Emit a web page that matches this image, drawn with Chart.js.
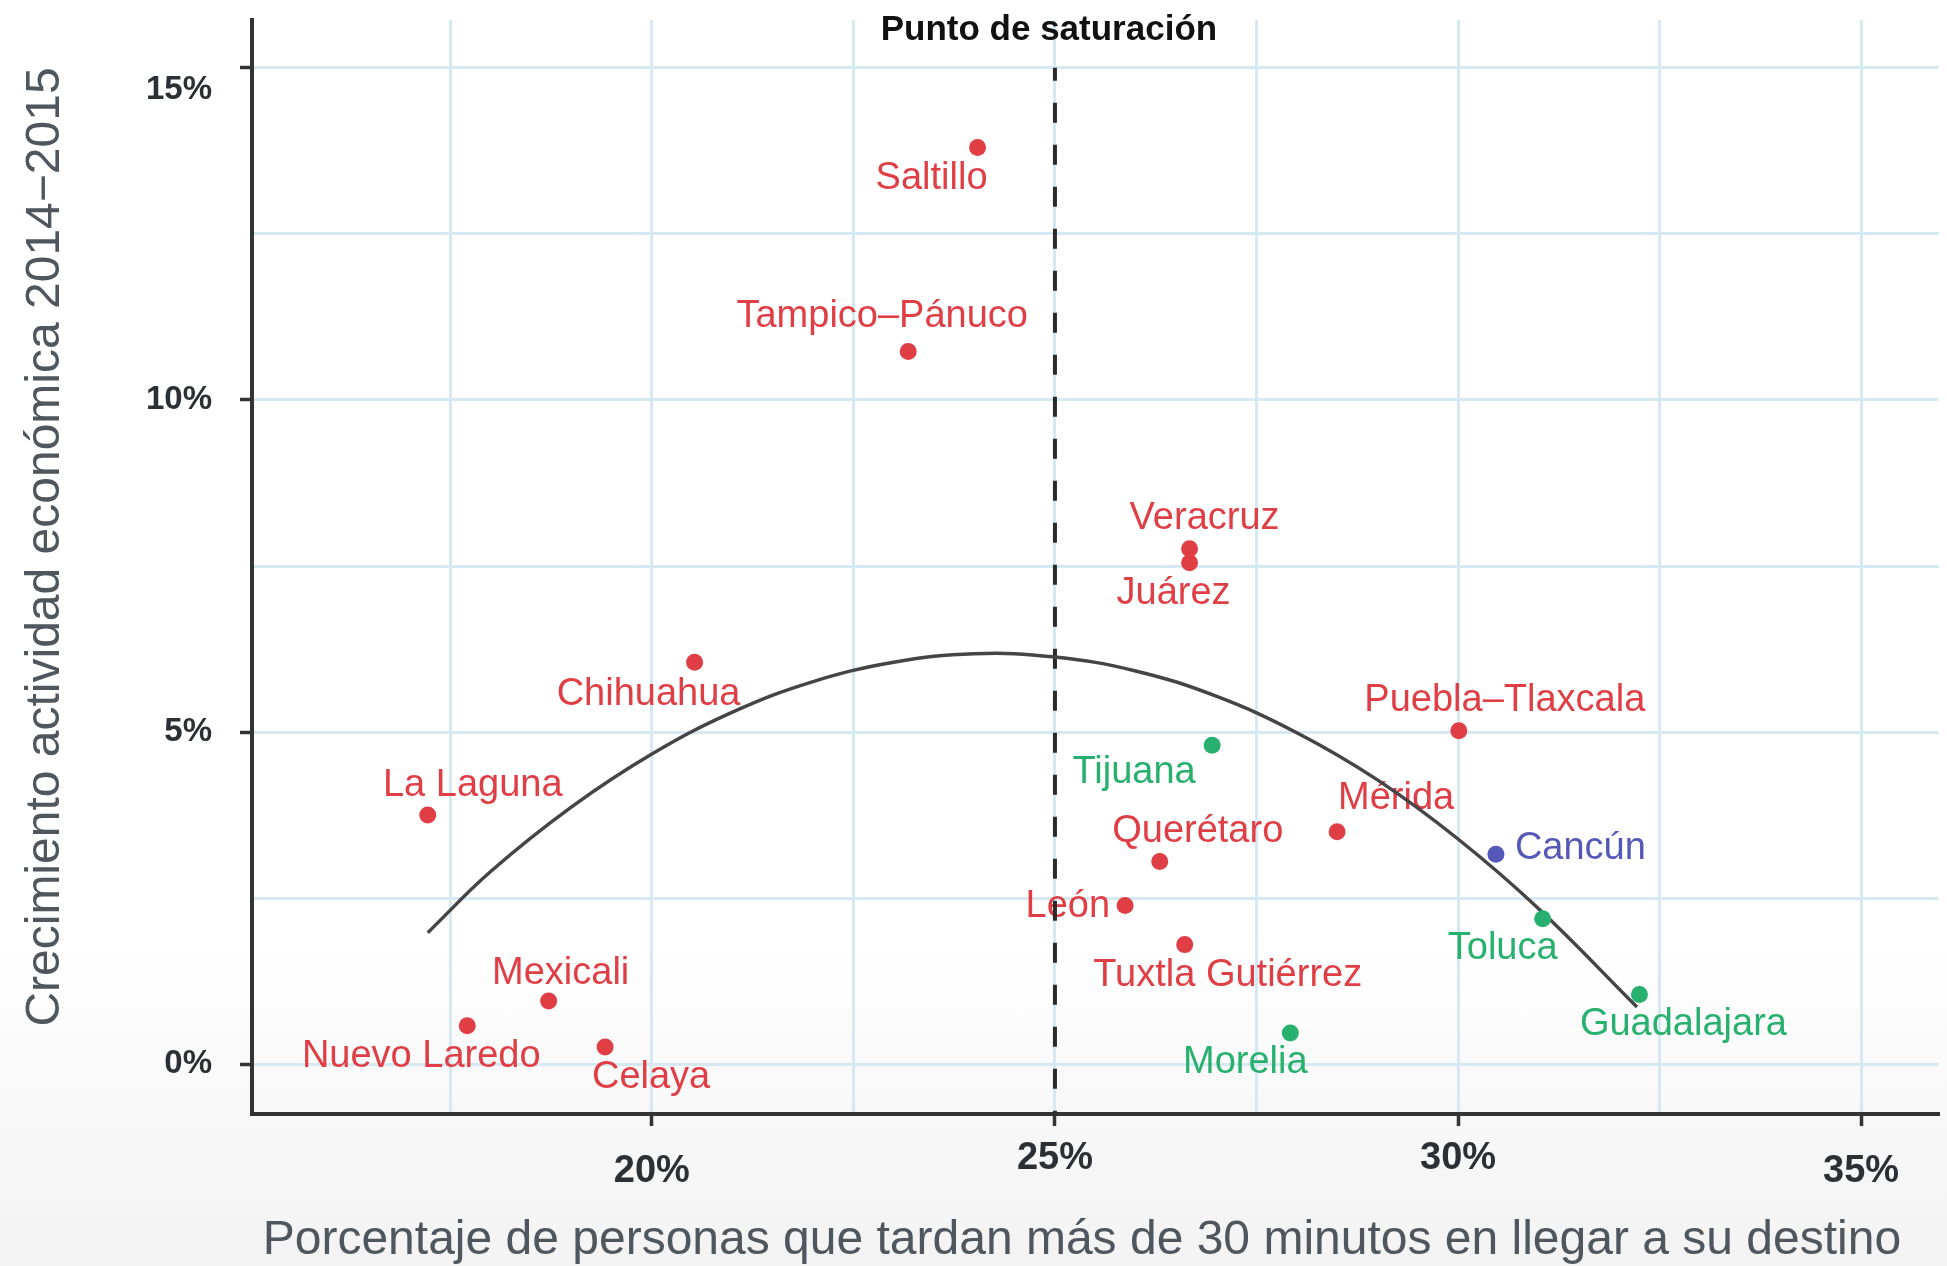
<!DOCTYPE html>
<html>
<head>
<meta charset="utf-8">
<script src="https://cdn.jsdelivr.net/npm/chart.js@4/dist/chart.umd.min.js"></script>
<style>
html,body{margin:0;padding:0;width:1947px;height:1266px;overflow:hidden;
  background:linear-gradient(to bottom,#ffffff 0%,#ffffff 74%,#f9f9f9 86%,#f3f3f3 100%);}
canvas{display:block;}
</style>
</head>
<body>
<canvas id="c" width="1947" height="1266"></canvas>
<script>
// ---------------- DATA ----------------
const cities = ['Saltillo','Tampico–Pánuco','Veracruz','Juárez','Chihuahua','Puebla–Tlaxcala','Tijuana',
  'La Laguna','Mérida','Querétaro','Cancún','León','Toluca','Tuxtla Gutiérrez','Guadalajara','Mexicali',
  'Morelia','Nuevo Laredo','Celaya'];
// % de personas que tardan más de 30 minutos
const commutePct = [24.04,23.18,26.67,26.67,20.53,30.01,26.95,17.22,28.50,26.30,30.47,25.87,31.05,26.61,32.25,18.72,27.92,17.71,19.42];
// crecimiento actividad económica 2014-2015 (%)
const growthPct  = [13.80,10.73,7.76,7.55,6.05,5.02,4.80,3.75,3.50,3.05,3.16,2.39,2.19,1.80,1.05,0.95,0.47,0.58,0.26];
const cityGroup  = ['r','r','r','r','r','r','g','r','r','r','b','r','g','r','g','r','g','r','r'];

// fitted curve
const fitX = [17.22,18,19,20,21,22,23,24,25,26,27,28,29,30,31,32.22];
const fitY = [1.98,2.90,3.87,4.67,5.30,5.76,6.05,6.18,6.13,5.92,5.54,4.99,4.28,3.39,2.34,0.86];

const saturationX = 25;
const saturationTopY = 15;
const saturationLabel = 'Punto de saturación';

const xMin = 15.04, xMax = 35.96, yMin = -0.75, yMax = 15.72;
const xGridValues = [17.5,20,22.5,25,27.5,30,32.5,35];
const yGridValues = [0,2.5,5,7.5,10,12.5,15];
const xTickValues = [20,25,30,35];
const xTickLabels = ['20%','25%','30%','35%'];
const yTickValues = [0,5,10,15];
const yTickLabels = ['0%','5%','10%','15%'];
const xTitle = 'Porcentaje de personas que tardan más de 30 minutos en llegar a su destino';
const yTitle = 'Crecimiento actividad económica 2014−2015';

// ---------------- STYLE / PLACEMENT ----------------
const FONT = '"Liberation Sans", Arial, Helvetica, sans-serif';
const groupColors = { r: '#e03e45', g: '#27b06e', b: '#5558b8' };
const gridColor = '#d6e9f3';
const axisColor = '#333333';
const tickLabelColor = '#2c2f33';
const titleColor = '#50565d';
const xLoweredTicks = [20,35];   // staggered labels
const yShiftedTicks = [15];
const labelPlacement = {
  'Saltillo':        {dx:-46, dy:31},
  'Tampico–Pánuco':  {dx:-26, dy:-35},
  'Veracruz':        {dx:15,  dy:-30},
  'Juárez':          {dx:-16, dy:31},
  'Chihuahua':       {dx:-46, dy:32},
  'Puebla–Tlaxcala': {dx:46,  dy:-30},
  'Tijuana':         {dx:-78, dy:27},
  'La Laguna':       {dx:45,  dy:-30},
  'Mérida':          {dx:59,  dy:-33},
  'Querétaro':       {dx:38,  dy:-30},
  'Cancún':          {dx:19,  dy:-6, align:'left'},
  'León':            {dx:-15, dy:1,  align:'right'},
  'Toluca':          {dx:-40, dy:30},
  'Tuxtla Gutiérrez':{dx:43,  dy:31},
  'Guadalajara':     {dx:44,  dy:30},
  'Mexicali':        {dx:12,  dy:-28},
  'Morelia':         {dx:-45, dy:30},
  'Nuevo Laredo':    {dx:-46, dy:31},
  'Celaya':          {dx:46,  dy:31}
};

// ---------------- BUILD ----------------
const groupKeys = ['r','g','b'];
const pointDatasets = groupKeys.map(k => ({
  type: 'scatter',
  data: cities.map((c,i) => cityGroup[i] === k ? {x: commutePct[i], y: growthPct[i]} : null).filter(Boolean),
  pointRadius: 8.5, pointHoverRadius: 8.5,
  pointBackgroundColor: groupColors[k], pointBorderWidth: 0,
  showLine: false, order: 0
}));

const curveDataset = {
  type: 'line',
  data: fitX.map((x,i) => ({x, y: fitY[i]})),
  borderColor: '#454545', borderWidth: 3.5, tension: 0.4,
  pointRadius: 0, fill: false, order: 2
};
const saturationDataset = {
  type: 'line',
  data: [{x: saturationX, y: saturationTopY}, {x: saturationX, y: yMin}],
  borderColor: '#2a2a2a', borderWidth: 4, borderDash: [20,22], borderDashOffset: 7,
  pointRadius: 0, fill: false, order: 3
};

const labelPlugin = {
  id: 'cityLabels',
  beforeDatasetsDraw(chart) {
    const ctx = chart.ctx, xs = chart.scales.x, ys = chart.scales.y;
    ctx.save();
    ctx.font = '38px ' + FONT;
    ctx.textBaseline = 'middle';
    cities.forEach((c,i) => {
      const p = labelPlacement[c] || {dx:0, dy:-30};
      ctx.fillStyle = groupColors[cityGroup[i]];
      ctx.textAlign = p.align || 'center';
      ctx.fillText(c, xs.getPixelForValue(commutePct[i]) + p.dx, ys.getPixelForValue(growthPct[i]) + p.dy);
    });
    ctx.font = 'bold 35px ' + FONT;
    ctx.fillStyle = '#111111';
    ctx.textAlign = 'center';
    ctx.textBaseline = 'alphabetic';
    ctx.fillText(saturationLabel, xs.getPixelForValue(saturationX) - 6, 40);
    ctx.restore();
  }
};

const tickMarkColor = (vals) => (ctx) => (ctx.tick && vals.includes(ctx.tick.value)) ? axisColor : 'rgba(0,0,0,0)';

new Chart(document.getElementById('c'), {
  type: 'scatter',
  data: { datasets: [...pointDatasets, curveDataset, saturationDataset] },
  options: {
    responsive: false, animation: false, devicePixelRatio: 1,
    layout: { padding: { left: 0, top: 20, right: 8, bottom: 0 } },
    plugins: { legend: { display: false }, tooltip: { enabled: false } },
    scales: {
      x: {
        type: 'linear', min: xMin, max: xMax,
        afterBuildTicks: s => { s.ticks = xGridValues.map(v => ({value: v})); },
        afterFit: s => { s.height = 152; s.paddingLeft = 0; s.paddingRight = 0; s.paddingTop = 0; s.paddingBottom = 0; },
        grid: { color: gridColor, lineWidth: 3, drawTicks: true, tickLength: 12, tickWidth: 3.5,
                tickColor: tickMarkColor(xTickValues) },
        border: { display: true, color: axisColor, width: 4 },
        ticks: {
          autoSkip: false, maxRotation: 0, minRotation: 0, padding: 10, color: tickLabelColor,
          font: (ctx) => ({ family: FONT, size: 38, weight: 'bold',
                            lineHeight: (ctx.tick && xLoweredTicks.includes(ctx.tick.value)) ? 0.62 : 1.2 }),
          callback: (v) => {
            const k = xTickValues.indexOf(v);
            if (k < 0) return '';
            return xLoweredTicks.includes(v) ? ['', xTickLabels[k]] : xTickLabels[k];
          }
        },
        title: { display: true, text: xTitle + '\u00a0\u00a0', color: titleColor,
                 font: { family: FONT, size: 48, lineHeight: 1 }, padding: { top: 0, bottom: 1 } }
      },
      y: {
        type: 'linear', min: yMin, max: yMax,
        afterBuildTicks: s => { s.ticks = yGridValues.map(v => ({value: v})); },
        afterFit: s => { s.width = 252; s.paddingLeft = 0; s.paddingRight = 0; s.paddingTop = 0; s.paddingBottom = 0; },
        grid: { color: gridColor, lineWidth: 3, drawTicks: true, tickLength: 12, tickWidth: 3.5,
                tickColor: tickMarkColor(yTickValues) },
        border: { display: true, color: axisColor, width: 4 },
        ticks: {
          padding: 28, color: tickLabelColor,
          font: (ctx) => ({ family: FONT, size: 33, weight: 'bold',
                            lineHeight: (ctx.tick && yShiftedTicks.includes(ctx.tick.value)) ? 1.36 : 1.2 }),
          callback: (v) => {
            const k = yTickValues.indexOf(v);
            if (k < 0) return '';
            return yShiftedTicks.includes(v) ? ['', yTickLabels[k]] : yTickLabels[k];
          }
        },
        title: { display: true, text: '\u00a0\u00a0\u00a0' + yTitle, color: titleColor,
                 font: { family: FONT, size: 48, lineHeight: 1 }, padding: { top: 22, bottom: 0 } }
      }
    }
  },
  plugins: [labelPlugin]
});
</script>
</body>
</html>
